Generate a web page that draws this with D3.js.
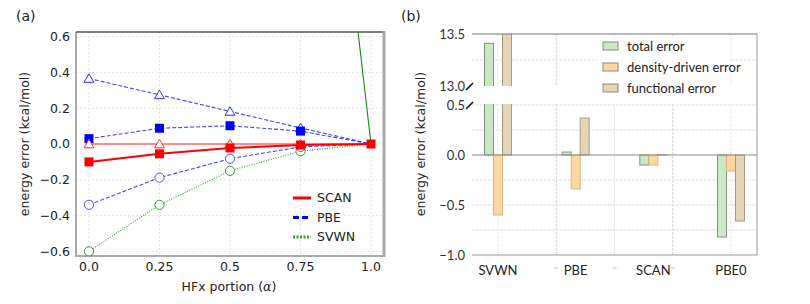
<!DOCTYPE html>
<html>
<head>
<meta charset="utf-8">
<script src="https://cdn.jsdelivr.net/npm/d3@7"></script>
<style>
  body { margin: 0; background: #fff; }
  svg { display: block; }
</style>
</head>
<body>
<div id="chart"></div>
<script>
// ---- data, panel (a)
const alphas = [0, 0.25, 0.5, 0.75, 1.0];
const alphaTicks = ['0.0', '0.25', '0.5', '0.75', '1.0'];
const scanTotal = [-0.10, -0.055, -0.022, -0.006, 0];
const scanFunc = [0.0, 0.0, 0.0, 0.0, 0];
const pbeTotal = [0.03, 0.088, 0.102, 0.072, 0];
const pbeFunc = [0.366, 0.275, 0.182, 0.09, 0];
const pbeDens = [-0.34, -0.188, -0.082, -0.016, 0];
const svwnDens = [-0.60, -0.34, -0.15, -0.04, 0];
const svwnTotal = [13.4, 10.1, 6.8, 3.4, 0];
const yTicksA = [-0.6, -0.4, -0.2, 0.0, 0.2, 0.4, 0.6];

// ---- data, panel (b)
const methods = ['SVWN', 'PBE', 'SCAN', 'PBE0'];
const totalErr = [13.41, 0.03, -0.10, -0.82];
const densErr = [-0.60, -0.34, -0.10, -0.16];
const funcErr = [14.01, 0.37, 0.003, -0.66];
const errNames = ['total error', 'density-driven error', 'functional error'];

const svg = d3.select('#chart').append('svg')
  .attr('width', 810).attr('height', 304);

const defs = svg.append('defs');

// ================= panel (a) =================
const x = d3.scaleLinear().domain([-0.046, 1.046]).range([76, 384]);
const y = d3.scaleLinear().domain([-0.626, 0.626]).range([256, 32]);

defs.append('clipPath').attr('id', 'clipA')
  .append('rect').attr('x', 76).attr('y', 32).attr('width', 308).attr('height', 224);

const gA = svg.append('g').attr('font-family', 'DejaVu Sans').attr('font-size', 12.5);

// grid
gA.selectAll('.gx').data(alphas).enter().append('line')
  .attr('x1', d => x(d)).attr('x2', d => x(d)).attr('y1', 32).attr('y2', 256)
  .attr('stroke', '#ddd').attr('stroke-dasharray', '2,2').attr('stroke-width', 0.8);
gA.selectAll('.gy').data(yTicksA).enter().append('line')
  .attr('x1', 76).attr('x2', 384).attr('y1', d => y(d)).attr('y2', d => y(d))
  .attr('stroke', '#ddd').attr('stroke-dasharray', '2,2').attr('stroke-width', 0.8);

// frame
gA.append('line').attr('x1', 76).attr('x2', 384).attr('y1', 32).attr('y2', 32).attr('stroke', '#000');
gA.append('line').attr('x1', 76).attr('x2', 76).attr('y1', 32).attr('y2', 256).attr('stroke', '#555');
gA.append('line').attr('x1', 384).attr('x2', 384).attr('y1', 31).attr('y2', 257).attr('stroke', '#aaa').attr('stroke-width', 3);
gA.append('line').attr('x1', 75).attr('x2', 385).attr('y1', 256).attr('y2', 256).attr('stroke', '#aaa').attr('stroke-width', 2);

// ticks
gA.selectAll('.ty').data(yTicksA).enter().append('text')
  .attr('x', 70).attr('y', d => y(d)).attr('dy', '0.35em').attr('text-anchor', 'end')
  .attr('fill', '#222')
  .text(d => d3.format('.1f')(d).replace('-', '\u2212'));
gA.selectAll('.tx').data(alphas).enter().append('text')
  .attr('x', d => x(d)).attr('y', 271).attr('text-anchor', 'middle').attr('fill', '#222')
  .text((d, i) => alphaTicks[i]);

const xl = gA.append('text').attr('x', 229).attr('y', 291).attr('text-anchor', 'middle').attr('fill', '#222');
xl.append('tspan').text('HFx portion (');
xl.append('tspan').attr('font-family', 'DejaVu Serif').attr('font-style', 'italic').text('\u03b1');
xl.append('tspan').text(')');

gA.append('text').attr('transform', 'translate(29,144) rotate(-90)')
  .attr('text-anchor', 'middle').attr('fill', '#222').text('energy error (kcal/mol)');

svg.append('text').attr('x', 16).attr('y', 21).attr('font-family', 'DejaVu Sans')
  .attr('font-size', 14).attr('fill', '#222').text('(a)');

const plot = gA.append('g').attr('clip-path', 'url(#clipA)');
const line = d3.line().x((d, i) => x(alphas[i])).y(d => y(d));

function series(vals, color, width, dash, opacity) {
  plot.append('path').datum(vals).attr('d', line)
    .attr('fill', 'none').attr('stroke', color).attr('stroke-width', width)
    .attr('stroke-dasharray', dash).attr('stroke-opacity', opacity);
}
function squares(vals, color) {
  plot.selectAll(null).data(vals).enter().append('rect')
    .attr('x', (d, i) => x(alphas[i]) - 4.5).attr('y', d => y(d) - 4.5)
    .attr('width', 9).attr('height', 9).attr('fill', color);
}
function triangles(vals, color) {
  const tri = d3.symbol().type(d3.symbolTriangle).size(42);
  plot.selectAll(null).data(vals).enter().append('path')
    .attr('d', tri).attr('transform', (d, i) => `translate(${x(alphas[i])},${y(d) + 1})`)
    .attr('fill', 'white').attr('stroke', color).attr('stroke-width', 1);
}
function circles(vals, color) {
  plot.selectAll(null).data(vals).enter().append('circle')
    .attr('cx', (d, i) => x(alphas[i])).attr('cy', d => y(d)).attr('r', 4.6)
    .attr('fill', 'white').attr('stroke', color).attr('stroke-width', 1);
}

series(svwnTotal, '#108a10', 1.1, null, 1);
series(svwnDens, '#2ca02c', 1.1, '1,1.5', 1);
circles(svwnDens.slice(0, 4), '#2ca02c');
series(pbeDens, '#3030ff', 1.1, '4,2', 0.9);
circles(pbeDens.slice(0, 4), '#5050ff');
series(pbeFunc, '#3030ff', 1.1, '4,2', 0.9);
triangles(pbeFunc.slice(0, 4), '#3030ff');
series(pbeTotal, '#3030ff', 1.1, '4,2', 0.9);
squares(pbeTotal.slice(0, 4), '#0000ff');
series(scanFunc, '#ff2020', 1.2, null, 1);
triangles(scanFunc.slice(0, 4), '#ff3030');
series(scanTotal, '#ff0000', 2, null, 1);
squares(scanTotal, '#ff0000');

// legend (a)
const legA = [['SCAN', '#ff0000', null], ['PBE', '#0000ff', '6,3'], ['SVWN', '#2ca02c', '2,1.5']];
legA.forEach((d, i) => {
  const ly = 198 + i * 19.5;
  gA.append('line').attr('x1', 293).attr('x2', 311).attr('y1', ly).attr('y2', ly)
    .attr('stroke', d[1]).attr('stroke-width', 3).attr('stroke-dasharray', d[2]);
  gA.append('text').attr('x', 317).attr('y', ly).attr('dy', '0.35em').attr('fill', '#222').text(d[0]);
});

// ================= panel (b) =================
const xb = d3.scaleLinear().domain([-0.335, 3.335]).range([472, 757]);
const yLow = d3.scaleLinear().domain([-1, 0.5]).range([255, 105]);
const yUp = d3.scaleLinear().domain([13.0, 13.5]).range([86, 34]);
const lowTicks = [-1.0, -0.5, 0.0, 0.5];
const lowGrid = [-0.75, -0.5, -0.25, 0.25, 0.5];
const upTicks = [13.0, 13.5];
const xGrid = [0, 0.75, 1.5, 2.25, 3.0];

defs.append('clipPath').attr('id', 'clipLow')
  .append('rect').attr('x', 472).attr('y', 104).attr('width', 285).attr('height', 151);
defs.append('clipPath').attr('id', 'clipUp')
  .append('rect').attr('x', 472).attr('y', 34).attr('width', 285).attr('height', 52);

const gB = svg.append('g').attr('font-family', 'Lato').attr('font-size', 13);

// grid
gB.selectAll('.gvx').data(xGrid).enter().append('line')
  .attr('x1', d => xb(d)).attr('x2', d => xb(d)).attr('y1', 104).attr('y2', 255)
  .attr('stroke', (d, i) => i % 2 ? '#d4d4d4' : '#e8e8e8').attr('stroke-dasharray', '3,1');
gB.selectAll('.gvu').data(xGrid).enter().append('line')
  .attr('x1', d => xb(d)).attr('x2', d => xb(d)).attr('y1', 34).attr('y2', 86)
  .attr('stroke', (d, i) => i % 2 ? '#d4d4d4' : '#e8e8e8').attr('stroke-dasharray', '3,1');
gB.selectAll('.ghl').data(lowGrid).enter().append('line')
  .attr('x1', 472).attr('x2', 757).attr('y1', d => yLow(d)).attr('y2', d => yLow(d))
  .attr('stroke', '#e0e0e0').attr('stroke-dasharray', '3,1');
gB.append('line').attr('x1', 472).attr('x2', 757).attr('y1', yUp(13.25)).attr('y2', yUp(13.25))
  .attr('stroke', '#e0e0e0').attr('stroke-dasharray', '3,1');

// bars
const barSets = [totalErr, densErr, funcErr];
const fills = ['#cbe8c4', '#fdd7a0', '#e3d5b6'];
const strokes = ['#7c957a', '#d9b57e', '#a89a80'];
const bw = 9;
const low = gB.append('g').attr('clip-path', 'url(#clipLow)');
const up = gB.append('g').attr('clip-path', 'url(#clipUp)');
barSets.forEach((vals, k) => {
  const off = (k - 1.5) * bw;
  low.selectAll(null).data(vals).enter().append('rect')
    .attr('x', (d, i) => xb(i) + off)
    .attr('y', d => Math.max(yLow(Math.max(0, d)), 90))
    .attr('width', bw)
    .attr('height', d => yLow(Math.min(0, d)) - Math.max(yLow(Math.max(0, d)), 90))
    .attr('fill', fills[k]).attr('stroke', strokes[k]).attr('stroke-width', 1);
  up.selectAll(null).data(vals.filter(v => v > 13)).enter().append('rect')
    .attr('x', (d) => xb(vals.indexOf(d)) + off)
    .attr('y', d => Math.max(yUp(d), 20))
    .attr('width', bw)
    .attr('height', d => 100 - Math.max(yUp(d), 20))
    .attr('fill', fills[k]).attr('stroke', strokes[k]).attr('stroke-width', 1);
});

// zero line & frame
gB.append('line').attr('x1', 472).attr('x2', 757).attr('y1', yLow(0)).attr('y2', yLow(0))
  .attr('stroke', '#8a8a8a').attr('stroke-width', 1.2);
gB.append('line').attr('x1', 472).attr('x2', 757).attr('y1', 34).attr('y2', 34).attr('stroke', '#777');
gB.append('line').attr('x1', 472).attr('x2', 757).attr('y1', 255).attr('y2', 255).attr('stroke', '#999');
gB.append('line').attr('x1', 757).attr('x2', 757).attr('y1', 34).attr('y2', 255).attr('stroke', '#999');

// y ticks
gB.selectAll('.tl').data(lowTicks).enter().append('text')
  .attr('x', 465).attr('y', d => yLow(d)).attr('dy', '0.35em').attr('text-anchor', 'end')
  .attr('fill', '#333').text(d => d3.format('.1f')(d));
gB.selectAll('.tu').data(upTicks).enter().append('text')
  .attr('x', 465).attr('y', d => yUp(d)).attr('dy', '0.35em').attr('text-anchor', 'end')
  .attr('fill', '#333').text(d => d3.format('.1f')(d));

// break marks
[yUp(13.0), yLow(0.5)].forEach(by => {
  gB.append('line').attr('x1', 466).attr('x2', 473).attr('y1', by + 4).attr('y2', by - 3)
    .attr('stroke', '#111').attr('stroke-width', 1.6);
});

// category labels
gB.selectAll('.tc').data(methods).enter().append('text')
  .attr('x', (d, i) => xb(i)).attr('y', 270).attr('dy', '0.35em').attr('text-anchor', 'middle')
  .attr('fill', '#222').text(d => d);
gB.selectAll('.tm').data(xGrid.slice(1, 4)).enter().append('line')
  .attr('x1', d => xb(d) - 2).attr('x2', d => xb(d) + 2).attr('y1', 268).attr('y2', 268)
  .attr('stroke', '#bbb');

svg.append('text').attr('transform', 'translate(425,144) rotate(-90)')
  .attr('font-family', 'DejaVu Sans').attr('font-size', 12.5)
  .attr('text-anchor', 'middle').attr('fill', '#222').text('energy error (kcal/mol)');

svg.append('text').attr('x', 401).attr('y', 21).attr('font-family', 'DejaVu Sans')
  .attr('font-size', 14).attr('fill', '#222').text('(b)');

// legend (b)
gB.append('rect').attr('x', 598).attr('y', 36).attr('width', 132).attr('height', 62).attr('fill', 'white');
errNames.forEach((d, k) => {
  const ly = 46 + k * 21;
  gB.append('rect').attr('x', 603).attr('y', ly - 4).attr('width', 15).attr('height', 8)
    .attr('fill', fills[k]).attr('stroke', '#888').attr('stroke-width', 1);
  gB.append('text').attr('x', 627).attr('y', ly).attr('dy', '0.35em').attr('fill', '#222').text(d);
});
</script>
</body>
</html>
